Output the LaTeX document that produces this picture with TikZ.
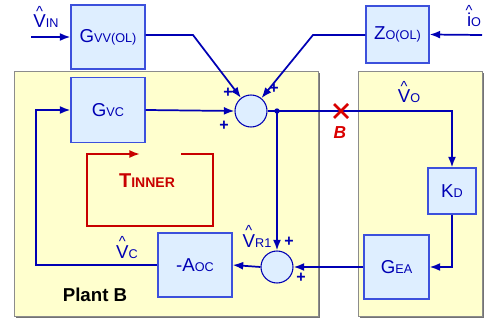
\documentclass[tikz,border=0pt]{standalone}
\usepackage{fontspec}
\setmainfont{Liberation Sans}
\usetikzlibrary{arrows.meta}
\definecolor{wire}{RGB}{0,0,180}
\definecolor{boxline}{RGB}{60,80,220}
\definecolor{boxfill}{RGB}{222,238,255}
\definecolor{panel}{RGB}{255,255,206}
\definecolor{loopred}{RGB}{200,0,0}
\newcommand\sub[1]{{\fontsize{9.5}{10}\selectfont #1}}
\newcommand\hatsig[1]{\ooalign{#1\cr\hidewidth\raisebox{0.62em}{\fontsize{11}{11}\selectfont\textasciicircum}\hidewidth\cr}}
\begin{document}
\begin{tikzpicture}[x=0.75pt, y=-0.75pt, >={Latex[length=8pt,width=6pt]},
  blk/.style={draw=boxline, fill=boxfill, line width=0.8pt, text=wire,
    font=\fontsize{14}{14}\selectfont, inner sep=0pt},
  sum/.style={circle, draw=wire, fill=boxfill, line width=0.8pt,
    minimum size=32*0.75pt, inner sep=0pt},
  lbl/.style={text=wire, font=\fontsize{14}{14}\selectfont, inner sep=0pt, anchor=base},
  pls/.style={text=wire, font=\bfseries\fontsize{12}{12}\selectfont, inner sep=0pt},
  wir/.style={draw=wire, line width=1.3pt}]
\useasboundingbox (0,0) rectangle (489,324);

% panels
\fill[black!55] (16,73) rectangle (320,318);
\filldraw[fill=panel, draw=black!45, line width=0.6pt] (14,71) rectangle (318,316);
\fill[black!55] (360,73) rectangle (484,318);
\filldraw[fill=panel, draw=black!45, line width=0.6pt] (358,71) rectangle (482,316);

% blocks
\node[blk, minimum width=74*0.75pt, minimum height=64*0.75pt] (gvv) at (108,37) {G\sub{VV(OL)}};
\node[blk, minimum width=63*0.75pt, minimum height=57*0.75pt] (zo) at (397.5,34.5) {Z\sub{O(OL)}};
\node[blk, minimum width=74*0.75pt, minimum height=65*0.75pt] (gvc) at (108,110) {G\sub{VC}};
\node[blk, minimum width=48*0.75pt, minimum height=46*0.75pt] (kd) at (452,191) {K\sub{D}};
\node[blk, minimum width=65*0.75pt, minimum height=64*0.75pt] (gea) at (396.5,267) {G\sub{EA}};
\node[blk, minimum width=74*0.75pt, minimum height=64*0.75pt] (aoc) at (195,265) {-A\sub{OC}};
\node[sum] (s1) at (251,111) {};
\node[sum] (s2) at (277,267) {};

% corner points
\coordinate (vin) at (31,37);
\coordinate (io) at (482,35);
\coordinate (k1) at (193,35);
\coordinate (k2) at (313,35);
\coordinate (dot) at (277,111);
\coordinate (vo) at (452,111);
\coordinate (kdb) at (452,267);
\coordinate (fb1) at (36,265);
\coordinate (fb2) at (36,110);

% wires
\draw[wir, ->] (vin) -- (gvv.west);
\draw[wir, ->] (io) -- (zo.east);
\draw[wir, ->] (gvv.east |- k1) -- (k1) -- (s1);
\draw[wir, ->] (zo.west |- k2) -- (k2) -- (s1);
\draw[wir, ->] (gvc.east) -- (s1.west);
\draw[wir, ->] (s1.east) -- (vo) -- (kd.north);
\draw[wir, ->] (dot) -- (s2.north);
\draw[wir, ->] (kd.south) -- (kdb) -- (gea.east);
\draw[wir, ->] (gea.west) -- (s2.east);
\draw[wir, ->] (s2.west) -- (aoc.east);
\draw[wir, ->] (aoc.west) -- (fb1) -- (fb2) -- (gvc.west);
\fill[wire] (dot) circle (2.7);

% break point
\draw[draw=red!85!black, line width=2pt] (334,104) -- (348,118) (334,118) -- (348,104);
\node[text=red!85!black, font=\bfseries\itshape\fontsize{13}{13}\selectfont] (b) at (340,133) {B};

% inner loop
\draw[draw=loopred, line width=1.3pt, ->] (181,154) -- (213,154) -- (213,226) -- (87,226) -- (87,154) -- (140,154);
\node[text=loopred, font=\bfseries\fontsize{15}{15}\selectfont] (tin) at (147,181) {T{\fontsize{10.5}{11}\selectfont INNER}};

% signal labels
\node[lbl] (lvin) at (46,28) {\hatsig{V}\sub{IN}};
\node[lbl] (lio) at (474,27) {\hatsig{i}\sub{O}};
\node[lbl] (lvo) at (409,103) {\hatsig{V}\sub{O}};
\node[lbl] (lvc) at (127,258) {\hatsig{V}\sub{C}};
\node[lbl] (lvr) at (257,247) {\hatsig{V}\sub{R1}};
\node[font=\bfseries\fontsize{14}{14}\selectfont] (plant) at (95,295) {Plant B};

% signs
\foreach \x/\y in {228/93, 224/126, 274/89, 289/242, 301/278}
  \node[pls] at (\x,\y) {+};

\end{tikzpicture}
\end{document}
